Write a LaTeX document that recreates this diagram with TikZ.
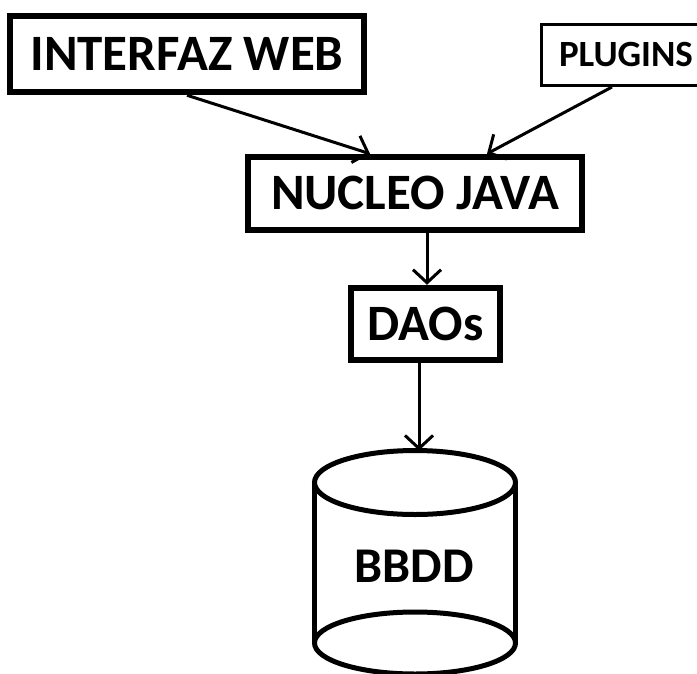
\documentclass[tikz,border=0pt]{standalone}
\usepackage{fontspec}
\setmainfont{Carlito}
\usetikzlibrary{arrows.meta}
\tikzset{
  box/.style={draw, line width=6.5pt, inner sep=0pt, font=\bfseries\fontsize{51}{51}\selectfont,
    text height=32pt, text depth=0pt},
  thinbox/.style={draw, line width=3pt, inner sep=0pt, font=\bfseries\fontsize{37}{37}\selectfont,
    text height=23.5pt, text depth=0pt},
  dblabel/.style={inner sep=0pt, font=\bfseries\fontsize{50}{50}\selectfont, text height=31.5pt, text depth=0pt},
  arr/.style={line width=3pt, -{Straight Barb[length=13pt, width=28pt, line width=3pt]}},
  cyl/.style={line width=5pt}
}
\begin{document}
\begin{tikzpicture}[x=1pt, y=-1pt]
  \useasboundingbox (0,0) rectangle (697,673);
  \begin{scope}
    \clip (0,0) rectangle (697,673);
    % boxes
    \node[box, minimum width=354pt, minimum height=76pt] (iw) at (187,54) {INTERFAZ WEB};
    \node[thinbox, minimum width=169pt, minimum height=61pt] (pl) at (626,55) {PLUGINS};
    \node[box, minimum width=334pt, minimum height=73pt] (nj) at (415,193.5) {NUCLEO JAVA};
    \node[box, minimum width=149pt, minimum height=72pt] (dao) at (425.5,324) {DAOs};
    % database cylinder
    \node[dblabel] (db) at (414,567) {BBDD};
    \coordinate (dbtop) at (419,450.5);
    \draw[cyl] (415,482.5) ellipse [x radius=100.5pt, y radius=32pt];
    \draw[cyl] (415,643) ellipse [x radius=100.5pt, y radius=31pt];
    \draw[cyl] (314.5,482.5) -- (314.5,643);
    \draw[cyl] (515.5,482.5) -- (515.5,643);
    % connectors
    \draw[arr] (iw.south) -- ([xshift=-45pt]nj.north);
    \draw[arr] ([xshift=-14pt]pl.south) -- ([xshift=72pt]nj.north);
    \draw[arr] ([xshift=12pt]nj.south) -- ([xshift=1.5pt]dao.north);
    \draw[arr] ([xshift=-6.5pt]dao.south) -- (dbtop);
  \end{scope}
\end{tikzpicture}
\end{document}
